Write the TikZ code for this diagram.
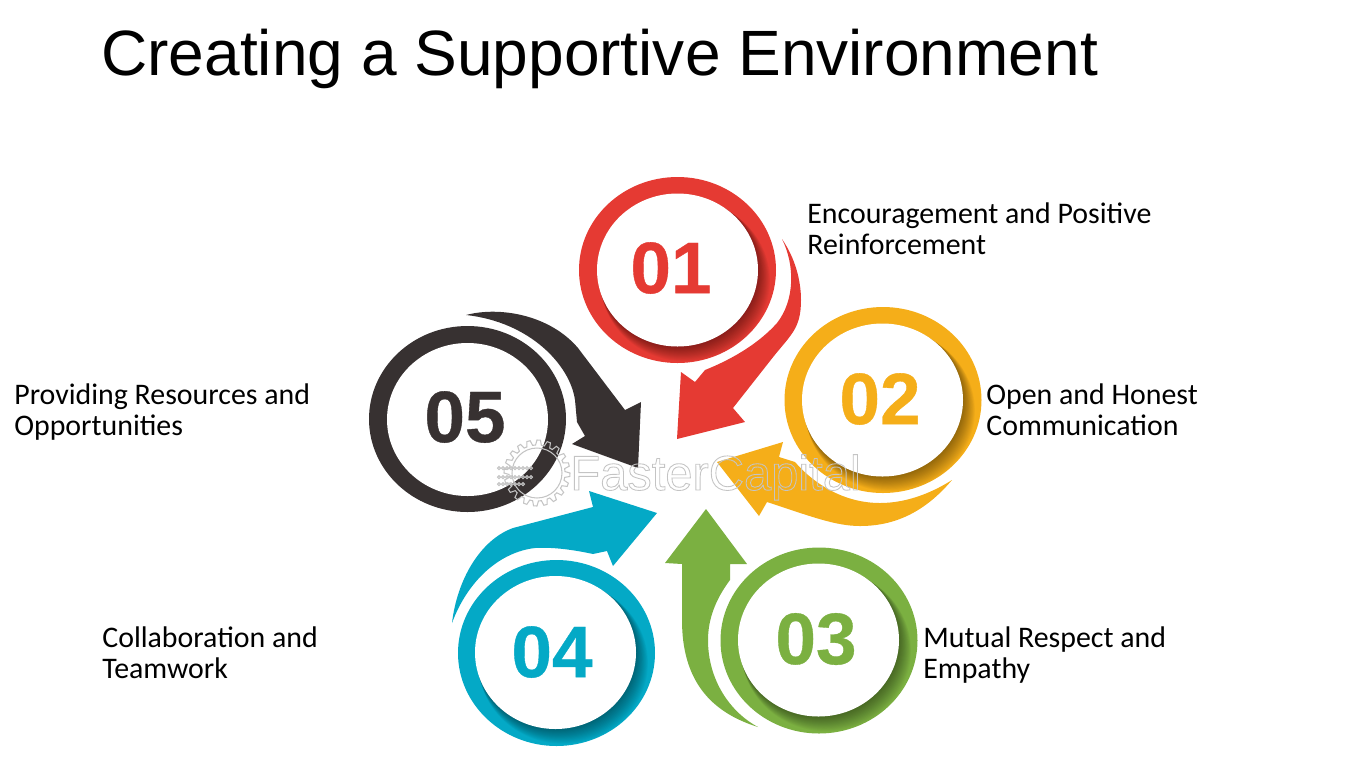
\documentclass[tikz,border=0pt]{standalone}
\usepackage{fontspec}
\setmainfont{Liberation Sans}
\newfontfamily\labelfont{Carlito}
\newfontfamily\numfont[BoldFeatures={FakeBold=0.5}]{Liberation Sans}
\usepackage{xcolor}

\definecolor{ringred}{HTML}{E53A33}
\definecolor{ringgold}{HTML}{F5AE19}
\definecolor{ringgreen}{HTML}{7BB041}
\definecolor{ringteal}{HTML}{04A9C6}
\definecolor{ringdark}{HTML}{373131}
\definecolor{markgray}{HTML}{C4C4C4}

\newcommand{\outlinetext}[1]{\special{pdf:code 1 Tr 0.5 w}#1\special{pdf:code 0 Tr}}

\tikzset{
    titlelabel/.style={anchor=base west, inner sep=0pt, font=\fontsize{36.45}{44}\selectfont},
    itemlabel/.style={anchor=west, inner sep=0pt, align=left, font=\labelfont\fontsize{17}{17.6}\selectfont},
    numlabel/.style={inner sep=0pt, font=\numfont\bfseries\fontsize{41.5}{50}\selectfont},
    marklabel/.style={inner sep=0pt, anchor=base west, text=markgray, font=\fontsize{27.8}{36}\selectfont}
}

\begin{document}
\begin{tikzpicture}[x=0.02cm, y=-0.02cm]

    \useasboundingbox (0,0) rectangle (1350,769);

    % Arrows
    \fill[ringred] (782,239) .. controls (795,258) and (801,280) .. (801,300)
        .. controls (801,330) and (790,335) .. (770,361) -- (733,408)
        -- (745,422) -- (677,439) -- (681,372) -- (695,382) -- (705,370)
        .. controls (735,358) and (760,342) .. (777,323)
        .. controls (795,300) and (795,265) .. (782,239) -- cycle;

    \fill[ringgold] (952,480) .. controls (925,512) and (895,526) .. (860,526)
        .. controls (835,526) and (810,516) .. (767,502)
        -- (759,516) -- (717,462) -- (783,442) -- (779,457) -- (795,462)
        .. controls (815,485) and (845,503) .. (880,503)
        .. controls (905,503) and (930,494) .. (952,480) -- cycle;

    \fill[ringgreen] (758,727) .. controls (710,712) and (682,680) .. (682,620) -- (682,564)
        -- (665,563) -- (706,509) -- (747,564) -- (730,564) -- (730,580)
        .. controls (715,600) and (708,620) .. (708,640)
        .. controls (708,680) and (730,712) .. (758,727) -- cycle;

    \fill[ringteal] (452,623) .. controls (457,580) and (480,540) .. (513,528) -- (593,507)
        -- (589,491) -- (657,513) -- (613,566) -- (607,551) -- (593,554)
        .. controls (570,549) and (550,547) .. (535,548)
        .. controls (500,552) and (468,580) .. (452,623) -- cycle;

    \fill[ringdark] (466,315) .. controls (500,306) and (550,315) .. (578,348) -- (625,410)
        -- (641,402) -- (638,468) -- (572,444) -- (585,436) -- (577,422) -- (575,400)
        .. controls (570,365) and (530,322) .. (466,315) -- cycle;

    % Rings: name / centre x,y / hole x,y / colour / number / number x,y / shadow
    \foreach \name/\cx/\cy/\hx/\hy/\col/\num/\nx/\ny/\sh in {
        one/677.5/270/677.5/270/ringred/01/671/268/1,
        two/883/400/882.5/400/ringgold/02/880/399/1,
        three/819/640.5/818.5/640/ringgreen/03/816/639/1,
        four/556.5/653/555.5/652.5/ringteal/04/552/652/1,
        five/467.5/419/467.5/419.5/ringdark/05/465/417/0}{
        \fill[\col] (\cx,\cy) ellipse [x radius=98.5, y radius=93];
        \begin{scope}
            \clip (\cx,\cy) ellipse [x radius=98.5, y radius=93];
            \ifnum\sh=1
            \foreach \s in {1,...,14}
                \fill[black, opacity=0.03] (\hx+\s*0.55,\hy+\s*0.75) ellipse [x radius=80.5+\s*0.3, y radius=76.5+\s*0.3];
            \fi
        \end{scope}
        \fill[white] (\hx,\hy) ellipse [x radius=80.5, y radius=76.5];
        \node[numlabel, text=\col] (num\name) at (\nx,\ny) {\num};
    }

    % Watermark
    \begin{scope}[shift={(537,473)}, markgray, line width=0.6pt]
        \draw (0:25) arc [start angle=0, end angle=360, radius=25];
        \draw (0:33) \foreach \a in {0,18,...,342} {
            -- (\a:33) -- (\a+6:33) -- (\a+9:28) -- (\a+15:28) } -- cycle;
        \foreach \row/\len in {-5/9,4/9,11/7}
            \foreach \k in {1,...,\len}
                \draw (-42+\k*4,\row) circle [radius=1.5];
    \end{scope}
    \node[marklabel] (mark) at (570,490) {\outlinetext{FasterCapital}};

    % Texts
    \node[titlelabel] (title) at (101,75) {Creating a Supportive Environment};

    \node[itemlabel] (encourage) at (807,229) {Encouragement and Positive\\Reinforcement};
    \node[itemlabel] (honest) at (986,410) {Open and Honest\\Communication};
    \node[itemlabel] (respect) at (923,655) {Mutual Respect and\\Empathy};
    \node[itemlabel] (teamwork) at (102,653) {Collaboration and\\Teamwork};
    \node[itemlabel] (resources) at (14,412) {Providing Resources and\\Opportunities};

\end{tikzpicture}
\end{document}
